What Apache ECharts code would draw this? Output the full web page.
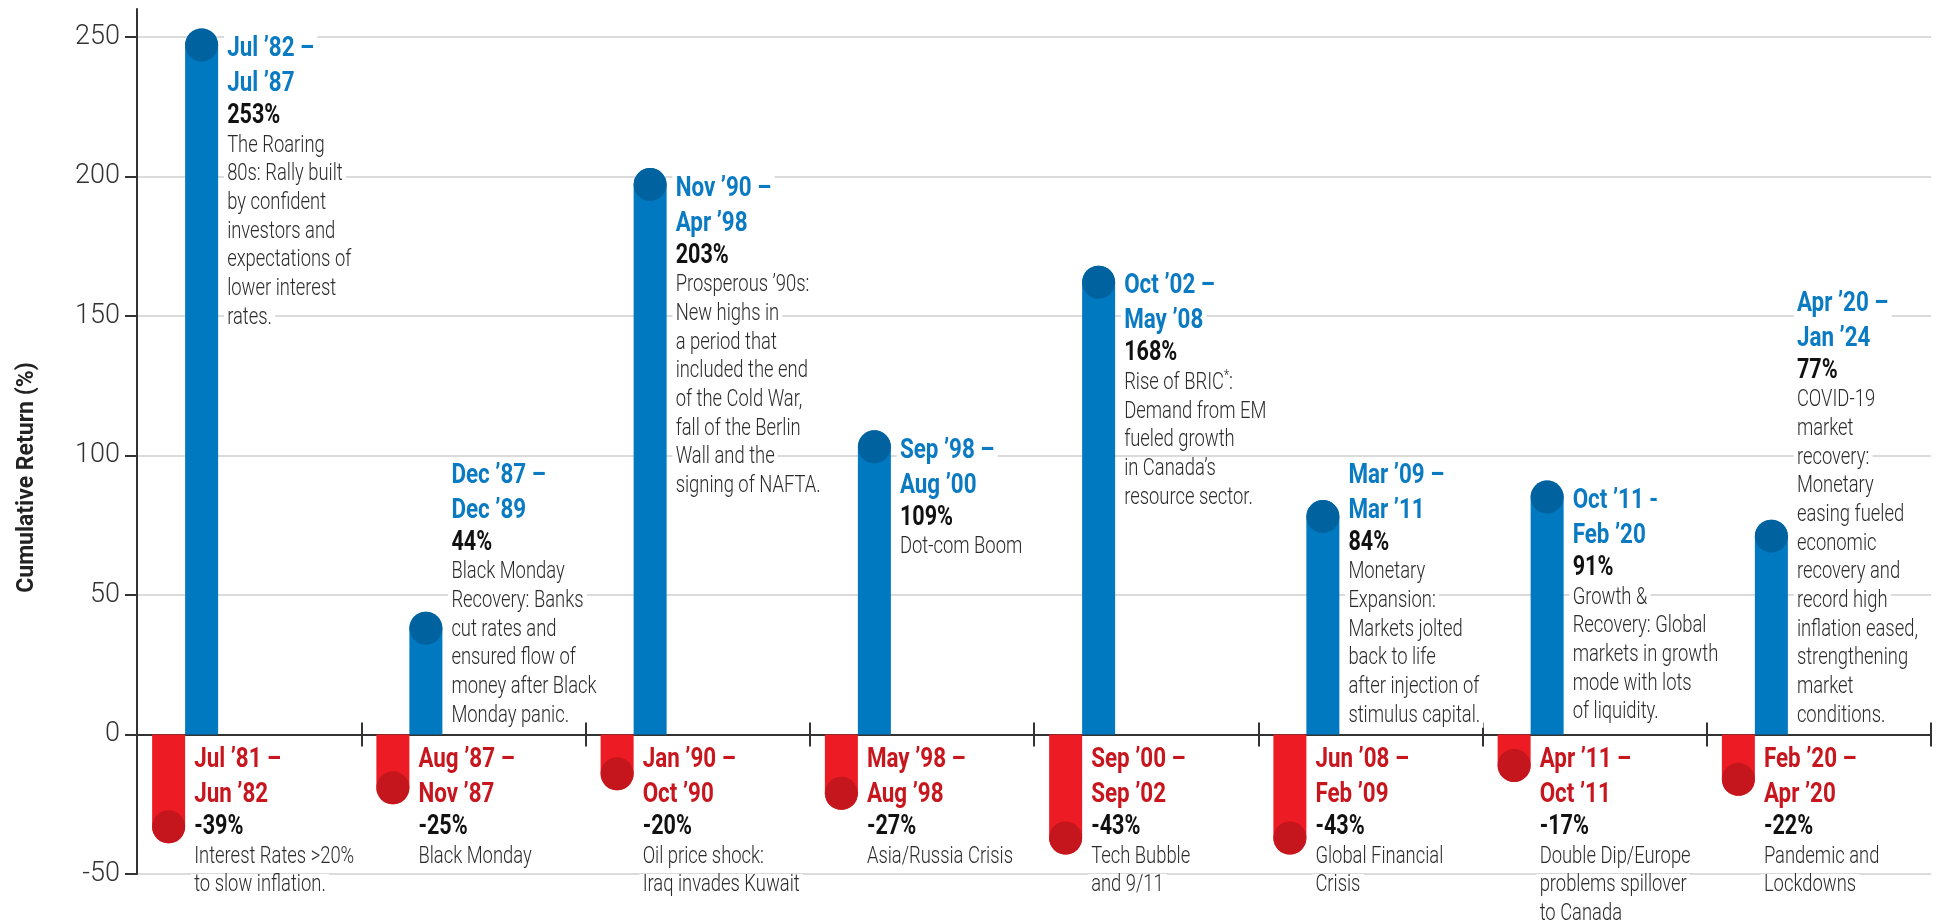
<!DOCTYPE html>
<html>
<head>
<meta charset="utf-8">
<title>Cumulative Return by Market Cycle</title>
<script src="https://cdn.jsdelivr.net/npm/echarts@6/dist/echarts.min.js"></script>
<style>
html, body { margin: 0; padding: 0; background: #fff; }
#chart { width: 1946px; height: 923px; }
</style>
</head>
<body>
<div id="chart"></div>
<script>
// one category per market cycle (bear leg + following bull leg)
const cycles = ['1981–87', '1987–89', '1990–98', '1998–2000', '2000–08', '2008–11', '2011–20', '2020–24'];

// declines (red) and recoveries (blue), cumulative return in %
const downValues = [-39, -25, -20, -27, -43, -43, -17, -22];
const upValues = [253, 44, 203, 109, 168, 84, 91, 77];

const downTitles = [
  ['Jul ’81 –', 'Jun ’82'], ['Aug ’87 –', 'Nov ’87'], ['Jan ’90 –', 'Oct ’90'], ['May ’98 –', 'Aug ’98'],
  ['Sep ’00 –', 'Sep ’02'], ['Jun ’08 –', 'Feb ’09'], ['Apr ’11 –', 'Oct ’11'], ['Feb ’20 –', 'Apr ’20']
];
const downNotes = [
  ['Interest Rates >20%', 'to slow inflation.'],
  ['Black Monday'],
  ['Oil price shock:', 'Iraq invades Kuwait'],
  ['Asia/Russia Crisis'],
  ['Tech Bubble', 'and 9/11'],
  ['Global Financial', 'Crisis'],
  ['Double Dip/Europe', 'problems spillover', 'to Canada'],
  ['Pandemic and', 'Lockdowns']
];
const upTitles = [
  ['Jul ’82 –', 'Jul ’87'], ['Dec ’87 –', 'Dec ’89'], ['Nov ’90 –', 'Apr ’98'], ['Sep ’98 –', 'Aug ’00'],
  ['Oct ’02 –', 'May ’08'], ['Mar ’09 –', 'Mar ’11'], ['Oct ’11 -', 'Feb ’20'], ['Apr ’20 –', 'Jan ’24']
];
const upNotes = [
  ['The Roaring', '80s: Rally built', 'by confident', 'investors and', 'expectations of', 'lower interest', 'rates.'],
  ['Black Monday', 'Recovery: Banks', 'cut rates and', 'ensured flow of', 'money after Black', 'Monday panic.'],
  ['Prosperous ’90s:', 'New highs in', 'a period that', 'included the end', 'of the Cold War,', 'fall of the Berlin', 'Wall and the', 'signing of NAFTA.'],
  ['Dot-com Boom'],
  ['Rise of BRIC*:', 'Demand from EM', 'fueled growth', 'in Canada’s', 'resource sector.'],
  ['Monetary', 'Expansion:', 'Markets jolted', 'back to life', 'after injection of', 'stimulus capital.'],
  ['Growth &', 'Recovery: Global', 'markets in growth', 'mode with lots', 'of liquidity.'],
  ['COVID-19', 'market', 'recovery:', 'Monetary', 'easing fueled', 'economic', 'recovery and', 'record high', 'inflation eased,', 'strengthening', 'market', 'conditions.']
];
const yTicks = [-50, 0, 50, 100, 150, 200, 250];

const FONT = "Roboto, 'Noto Sans', sans-serif";
const SQUEEZE = 0.8;    // condensed look for the annotation text
const BAR_W = 33;
const SPACER_W = 128;   // invisible bar that pushes the pair to the left of each slot
const BLUE = '#0079c1', BLUE_CAP = '#00629e';
const RED = '#ed1c24', RED_CAP = '#c4161c';
const LH_T = 35, LH_P = 30, LH_D = 28.7;
const PAD = 4;

// offset of each bar centre from the category centre
const redDx = -(2 * BAR_W + SPACER_W) / 2 + BAR_W / 2;
const blueDx = redDx + BAR_W;

function noteLine(n) {
  // raised asterisk (footnote mark)
  if (n.indexOf('*') < 0) return '{d|' + n + '}';
  const parts = n.split('*');
  return '{dl|' + parts[0] + '}{s|*}{dr|' + parts[1] + '}';
}

function labelText(titles, value, notes) {
  const lines = titles.map(t => '{t|' + t + '}');
  lines.push('{p|' + value + '%}');
  notes.forEach(n => lines.push(noteLine(n)));
  return lines.join('\n');
}

function richStyles(titleColor) {
  const note = { fontFamily: FONT, fontWeight: 300, fontSize: 23, lineHeight: LH_D, fill: '#2b2b2b', backgroundColor: '#fff' };
  return {
    t: { fontFamily: FONT, fontWeight: 'bold', fontSize: 28, lineHeight: LH_T, fill: titleColor, backgroundColor: '#fff', padding: [0, PAD] },
    p: { fontFamily: FONT, fontWeight: 'bold', fontSize: 27, lineHeight: LH_P, fill: '#111', backgroundColor: '#fff', padding: [0, PAD] },
    d: Object.assign({ padding: [0, PAD] }, note),
    dl: Object.assign({ padding: [0, 0, 0, PAD] }, note),
    dr: Object.assign({ padding: [0, PAD, 0, 0] }, note),
    s: { fontFamily: FONT, fontWeight: 300, fontSize: 15, lineHeight: LH_D, fill: '#2b2b2b', backgroundColor: '#fff', verticalAlign: 'top' }
  };
}

// text block beside each bar, placed with the axes' own coordinates
function labelSeries(name, values, titles, notes, titleColor, isUp) {
  return {
    name: name,
    type: 'custom',
    data: values.map((v, i) => [i, v]),
    silent: true,
    z: 5,
    renderItem: (params, api) => {
      const i = api.value(0);
      const v = api.value(1);
      const end = api.coord([i, v]);
      const zero = api.coord([i, 0]);
      const h = titles[i].length * LH_T + LH_P + notes[i].length * LH_D;
      const x = end[0] + (isUp ? blueDx : redDx) + BAR_W / 2 + 9 - PAD * SQUEEZE;
      const y = isUp ? Math.min(end[1] + 3, zero[1] - 4 - h) : zero[1] + 8;
      return {
        type: 'text',
        x: x,
        y: y,
        scaleX: SQUEEZE,
        style: {
          text: labelText(titles[i], v, notes[i]),
          rich: richStyles(titleColor),
          align: 'left',
          verticalAlign: 'top'
        }
      };
    }
  };
}

const myChart = echarts.init(document.getElementById('chart'));

const gridBox = { left: 137, right: 15, top: 9, bottom: 49 };

myChart.setOption({
  backgroundColor: '#fff',
  animation: false,
  grid: [Object.assign({}, gridBox), Object.assign({}, gridBox)],
  xAxis: [{
    type: 'category',
    data: cycles,
    axisLine: { onZero: true, lineStyle: { color: '#333', width: 2 } },
    axisTick: { show: true, length: 12, lineStyle: { color: '#333', width: 2 } },
    axisLabel: { show: false },
    splitLine: { show: false }
  }, {
    // twin axis on a twin grid so the ticks cross the zero line
    gridIndex: 1,
    type: 'category',
    data: cycles,
    axisLine: { onZero: true, lineStyle: { color: '#333', width: 2 } },
    axisTick: { show: true, inside: true, length: 12, lineStyle: { color: '#333', width: 2 } },
    axisLabel: { show: false },
    splitLine: { show: false }
  }],
  yAxis: [{
    type: 'value',
    min: -50,
    max: 260,
    interval: 50,
    name: 'Cumulative Return (%)',
    nameLocation: 'middle',
    nameGap: 98,
    nameTextStyle: { fontFamily: FONT, fontWeight: 'bold', fontSize: 23, color: '#222', padding: [0, 72, 0, 0] },
    axisLine: { show: true, lineStyle: { color: '#333', width: 2 } },
    axisTick: { show: true, length: 12, customValues: yTicks, lineStyle: { color: '#333', width: 2 } },
    axisLabel: { customValues: yTicks, fontFamily: FONT, fontWeight: 300, fontSize: 27, color: '#333', margin: 17 },
    splitLine: { lineStyle: { color: '#cfcfcf', width: 1.5 } }
  }, {
    gridIndex: 1,
    type: 'value',
    min: -50,
    max: 260,
    show: false
  }],
  series: [{
    name: 'Decline',
    type: 'bar',
    barWidth: BAR_W,
    barGap: '0%',
    data: downValues,
    itemStyle: { color: RED, borderRadius: [0, 0, BAR_W / 2, BAR_W / 2] },
    silent: true
  }, {
    name: 'Recovery',
    type: 'bar',
    barWidth: BAR_W,
    barGap: '0%',
    data: upValues,
    itemStyle: { color: BLUE, borderRadius: [BAR_W / 2, BAR_W / 2, 0, 0] },
    silent: true
  }, {
    name: 'spacer',
    type: 'bar',
    barWidth: SPACER_W,
    barGap: '0%',
    data: [],
    silent: true
  }, {
    name: 'Decline cap',
    type: 'scatter',
    data: downValues,
    symbol: 'circle',
    symbolSize: BAR_W,
    symbolOffset: [redDx, -BAR_W / 2],
    itemStyle: { color: RED_CAP, opacity: 1 },
    silent: true,
    z: 3
  }, {
    name: 'Recovery cap',
    type: 'scatter',
    data: upValues,
    symbol: 'circle',
    symbolSize: BAR_W,
    symbolOffset: [blueDx, BAR_W / 2],
    itemStyle: { color: BLUE_CAP, opacity: 1 },
    silent: true,
    z: 3
  },
  labelSeries('Decline text', downValues, downTitles, downNotes, '#c8161e', false),
  labelSeries('Recovery text', upValues, upTitles, upNotes, '#0a7ac2', true)
  ]
});
</script>
</body>
</html>
